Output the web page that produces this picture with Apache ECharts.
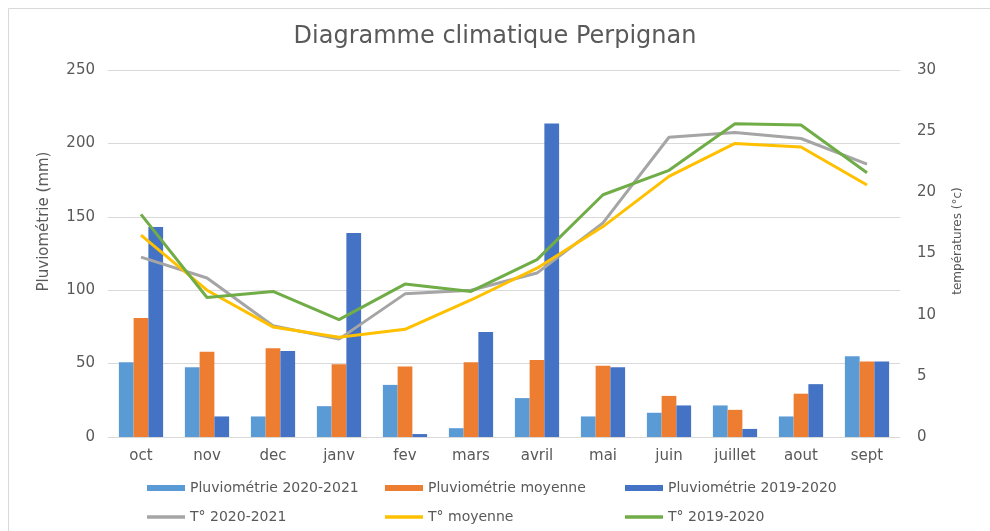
<!DOCTYPE html>
<html>
<head>
<meta charset="utf-8">
<script src="https://cdn.jsdelivr.net/npm/echarts@6/dist/echarts.min.js"></script>
<style>html,body{margin:0;padding:0;background:#fff}#c{width:990px;height:531px}</style>
</head>
<body>
<div id="c"></div>
<script>
const categories = ['oct','nov','dec','janv','fev','mars','avril','mai','juin','juillet','aout','sept'];
const pluvio2021 = [51, 47.5, 14, 21, 35.5, 6, 26.5, 14, 16.5, 21.5, 14, 55];
const pluvioMoy = [81, 58, 60.5, 49.5, 48, 51, 52.5, 48.5, 28, 18.5, 29.5, 51.5];
const pluvio1920 = [143, 14, 58.5, 139, 2, 71.5, 213.5, 47.5, 21.5, 5.5, 36, 51.5];
const temp2021 = [14.7, 13.0, 9.1, 8.0, 11.7, 12.0, 13.4, 17.5, 24.5, 24.9, 24.4, 22.3];
const tempMoy = [16.5, 12.0, 9.0, 8.15, 8.8, 11.2, 13.8, 17.2, 21.3, 24.0, 23.7, 20.6];
const temp1920 = [18.2, 11.4, 11.9, 9.6, 12.5, 11.9, 14.5, 19.8, 21.8, 25.6, 25.5, 21.6];
const leftTicks = [0, 50, 100, 150, 200, 250];
const rightTicks = [0, 5, 10, 15, 20, 25, 30];

const names = ['Pluviométrie 2020-2021','Pluviométrie moyenne','Pluviométrie 2019-2020','T° 2020-2021','T° moyenne','T° 2019-2020'];
const colors = ['#5B9BD5','#ED7D31','#4472C4','#A5A5A5','#FFC000','#70AD47'];
const FONT = 'DejaVu Sans';
const TXT = '#595959';

const legendPos = [[147,481],[385,481],[625,481],[147,510],[385,510],[625,510]];
const legends = names.map((n,i)=>({
  data:[n], left: legendPos[i][0], top: legendPos[i][1],
  icon:'rect', itemWidth:38, itemHeight: i<3 ? 6 : 3.5,
  padding:0, itemGap:0,
  textStyle:{fontFamily:FONT, fontSize:14, color:TXT}
}));

const chart = echarts.init(document.getElementById('c'));
chart.setOption({
  animation:false,
  backgroundColor:'#fff',
  color: colors,
  title:{text:'Diagramme climatique Perpignan', left:'center', top:20,
    textStyle:{fontFamily:FONT, fontSize:24, fontWeight:'normal', color:TXT}},
  graphic:[{type:'rect', shape:{x:8.5,y:8.5,width:1000,height:600}, style:{fill:'none', stroke:'#d9d9d9', lineWidth:1}, silent:true}],
  legend: legends,
  grid:{left:108, right:90, top:70, bottom:94},
  xAxis:{type:'category', data:categories,
    axisLine:{lineStyle:{color:'#d9d9d9'}}, axisTick:{show:false},
    axisLabel:{fontFamily:FONT, fontSize:15, color:TXT, margin:12}},
  yAxis:[
    {type:'value', min:leftTicks[0], max:leftTicks[leftTicks.length-1], interval:50,
     name:'Pluviométrie (mm)', nameLocation:'middle', nameGap:56,
     nameTextStyle:{fontFamily:FONT, fontSize:15, color:TXT, padding:[0,0,0,64]},
     axisLine:{show:false}, axisTick:{show:false},
     axisLabel:{fontFamily:FONT, fontSize:15, color:TXT, margin:13},
     splitLine:{lineStyle:{color:'#d9d9d9'}}},
    {type:'value', min:rightTicks[0], max:rightTicks[rightTicks.length-1], interval:5,
     name:'températures (°c)', nameLocation:'middle', nameGap:52,
     nameTextStyle:{fontFamily:FONT, fontSize:12, color:TXT, padding:[0,0,0,25]},
     axisLine:{show:false}, axisTick:{show:false},
     axisLabel:{fontFamily:FONT, fontSize:15, color:TXT, margin:17},
     splitLine:{show:false}}
  ],
  series:[
    {name:names[0], type:'bar', data:pluvio2021, barGap:'0%', barCategoryGap:'33%', yAxisIndex:0},
    {name:names[1], type:'bar', data:pluvioMoy, barGap:'0%', barCategoryGap:'33%', yAxisIndex:0},
    {name:names[2], type:'bar', data:pluvio1920, barGap:'0%', barCategoryGap:'33%', yAxisIndex:0},
    {name:names[3], type:'line', data:temp2021, yAxisIndex:1, symbol:'none', lineStyle:{width:3}, z:3},
    {name:names[4], type:'line', data:tempMoy, yAxisIndex:1, symbol:'none', lineStyle:{width:3}, z:3},
    {name:names[5], type:'line', data:temp1920, yAxisIndex:1, symbol:'none', lineStyle:{width:3}, z:3}
  ]
});
</script>
</body>
</html>
